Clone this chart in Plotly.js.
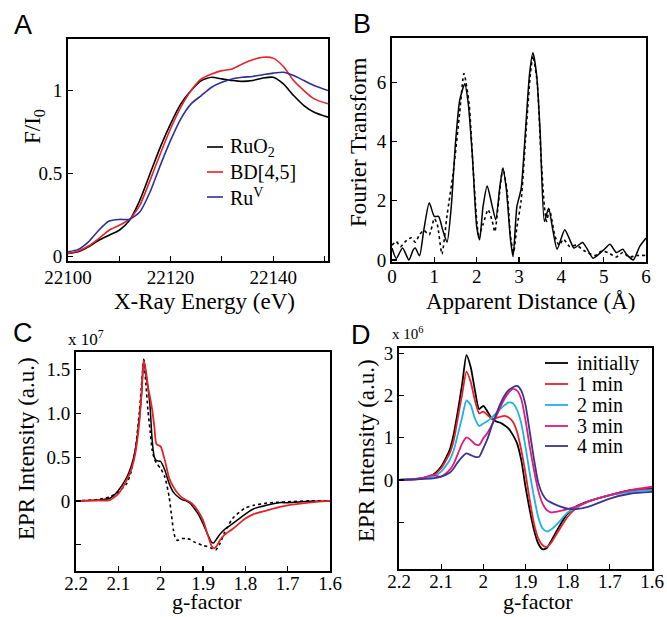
<!DOCTYPE html>
<html>
<head>
<meta charset="utf-8">
<script src="https://cdn.plot.ly/plotly-3.0.1.min.js"></script>
<style>html,body{margin:0;padding:0;background:#fff;}#chart{width:667px;height:617px;}</style>
</head>
<body>
<div id="chart"></div>
<script>
// ---------- Panel A: XANES ----------
var energyA = [22100,22102,22104,22106,22108,22110,22112,22114,22116,22118,22120,22122,22124,22126,22128,22130,22132,22134,22136,22138,22140,22142,22144,22146,22148,22150.7];
var ruo2A   = [0.02,0.03,0.06,0.10,0.13,0.16,0.22,0.34,0.50,0.66,0.80,0.92,1.00,1.06,1.08,1.07,1.06,1.055,1.06,1.075,1.08,1.04,0.97,0.91,0.87,0.84];
var bd45A   = [0.02,0.035,0.065,0.11,0.16,0.19,0.225,0.31,0.46,0.62,0.77,0.90,1.00,1.07,1.10,1.12,1.13,1.16,1.185,1.20,1.195,1.145,1.06,1.00,0.95,0.92];
var ruVA    = [0.03,0.045,0.09,0.16,0.215,0.225,0.225,0.27,0.39,0.55,0.70,0.83,0.92,0.97,1.02,1.05,1.07,1.08,1.085,1.095,1.105,1.11,1.09,1.06,1.03,1.00];
var legendA = ['RuO<sub>2</sub>','BD[4,5]','Ru<sup>V</sup>'];

// ---------- Panel B: EXAFS Fourier transform ----------
var distSolid = [0,0.1,0.25,0.4,0.5,0.55,0.65,0.75,0.88,1.0,1.1,1.2,1.3,1.4,1.5,1.6,1.72,1.8,1.9,2.0,2.07,2.15,2.25,2.35,2.45,2.55,2.62,2.7,2.8,2.86,2.95,3.05,3.15,3.25,3.33,3.42,3.5,3.6,3.7,3.8,3.9,4.08,4.2,4.3,4.5,4.6,4.75,5.0,5.15,5.3,5.45,5.55,5.7,5.85,6.0];
var ftSolid   = [0.4,0.05,0.4,0.0,0.34,0.4,0.14,1.0,1.93,1.47,1.47,1.0,0.6,1.8,3.96,5.4,5.95,5.3,3.5,1.13,0.68,1.8,2.5,1.93,1.36,2.5,3.1,2.4,0.68,0.11,1.8,2.4,4.3,6.3,7.0,6.2,4.3,1.3,1.75,1.0,0.36,1.02,0.68,0.4,0.59,0.4,0.06,0.34,0.53,0.25,0.36,0.17,0.0,0.45,0.74];
var distDot   = [0,0.1,0.2,0.3,0.45,0.55,0.65,0.75,0.88,1.0,1.07,1.18,1.3,1.45,1.6,1.7,1.82,1.92,2.05,2.15,2.27,2.37,2.43,2.52,2.62,2.72,2.8,2.87,2.95,3.05,3.15,3.27,3.33,3.43,3.52,3.6,3.65,3.72,3.85,3.95,4.05,4.2,4.35,4.55,4.8,4.95,5.1,5.3,5.45,5.6,5.8,6.0];
var ftDot     = [0.5,0.62,0.45,0.6,0.75,0.6,0.85,1.0,0.85,1.4,1.2,0.2,1.5,3.0,5.0,6.3,5.3,3.0,0.85,1.2,1.7,1.3,0.95,2.0,3.1,2.3,0.8,0.25,1.1,2.0,4.0,6.3,6.9,6.0,3.5,1.8,1.3,1.7,0.8,0.5,0.7,0.45,0.5,0.3,0.15,0.3,0.25,0.1,0.25,0.1,0.15,0.15];

// ---------- Panel C: EPR (x 10^7) ----------
var gC      = [2.2,2.15,2.12,2.1,2.08,2.07,2.06,2.05,2.045,2.04,2.035,2.03,2.025,2.02,2.015,2.01,2.0,1.99,1.98,1.97,1.96,1.95,1.94,1.93,1.92,1.91,1.9,1.89,1.88,1.875,1.87,1.86,1.85,1.83,1.8,1.78,1.75,1.72,1.7,1.65,1.6];
var eprBlackC = [0,0.01,0.03,0.12,0.27,0.39,0.58,0.96,1.23,1.62,1.45,1.30,1.07,0.69,0.50,0.46,0.45,0.35,0.20,0.10,0.05,0.015,0,-0.03,-0.09,-0.16,-0.26,-0.37,-0.47,-0.48,-0.45,-0.38,-0.33,-0.26,-0.15,-0.09,-0.05,-0.02,-0.02,-0.005,0];
var eprRedC   = [0,0.005,0.01,0.08,0.24,0.35,0.54,0.92,1.25,1.60,1.49,1.30,1.18,1.04,0.85,0.65,0.62,0.46,0.26,0.16,0.09,0.04,0.01,-0.015,-0.06,-0.13,-0.22,-0.37,-0.51,-0.54,-0.53,-0.45,-0.39,-0.32,-0.20,-0.15,-0.11,-0.07,-0.05,-0.02,0];
var gDotC     = [2.2,2.15,2.12,2.1,2.08,2.07,2.06,2.05,2.045,2.04,2.035,2.03,2.025,2.02,2.015,2.01,2.0,1.99,1.98,1.975,1.97,1.965,1.96,1.95,1.94,1.93,1.92,1.91,1.9,1.89,1.88,1.87,1.86,1.85,1.83,1.8,1.78,1.75,1.72,1.7,1.65,1.6];
var eprDotC   = [0,0.015,0.045,0.10,0.20,0.33,0.58,1.03,1.34,1.61,1.34,1.03,0.80,0.58,0.48,0.43,0.37,0.27,0.05,-0.14,-0.33,-0.43,-0.45,-0.43,-0.43,-0.44,-0.47,-0.49,-0.51,-0.52,-0.54,-0.56,-0.49,-0.37,-0.20,-0.08,-0.05,-0.025,-0.015,-0.01,0,0];

// ---------- Panel D: EPR time series (x 10^6) ----------
var gD = [2.2,2.15,2.12,2.1,2.08,2.07,2.06,2.05,2.04,2.03,2.02,2.01,2.0,1.99,1.98,1.97,1.96,1.95,1.94,1.93,1.92,1.91,1.9,1.89,1.88,1.87,1.86,1.85,1.84,1.82,1.8,1.78,1.75,1.7,1.65,1.6];
var eprInit = [0,0.04,0.12,0.32,0.71,1.1,1.66,2.29,2.96,2.68,2.13,1.68,1.76,1.62,1.46,1.39,1.36,1.30,1.22,1.07,0.87,0.47,-0.16,-0.71,-1.18,-1.50,-1.64,-1.62,-1.46,-1.10,-0.79,-0.63,-0.50,-0.36,-0.24,-0.21];
var epr1min = [0,0.03,0.10,0.28,0.63,0.95,1.50,2.05,2.57,2.33,1.89,1.58,1.62,1.54,1.45,1.47,1.50,1.52,1.48,1.38,1.14,0.71,0.16,-0.47,-1.03,-1.38,-1.54,-1.59,-1.50,-1.18,-0.87,-0.67,-0.51,-0.36,-0.24,-0.22];
var epr2min = [0,0.03,0.08,0.20,0.47,0.71,1.10,1.50,1.89,1.78,1.46,1.28,1.34,1.40,1.48,1.58,1.68,1.77,1.84,1.82,1.66,1.34,0.79,0.16,-0.39,-0.87,-1.14,-1.22,-1.18,-0.99,-0.77,-0.65,-0.51,-0.36,-0.28,-0.24];
var epr3min = [0,0.03,0.12,0.08,0.24,0.39,0.63,0.87,1.01,0.95,0.85,0.83,0.99,1.12,1.30,1.50,1.72,1.92,2.07,2.16,2.12,1.92,1.42,0.79,0.24,-0.24,-0.55,-0.71,-0.77,-0.74,-0.69,-0.63,-0.51,-0.36,-0.24,-0.16];
var epr4min = [0,0.02,0.04,0.08,0.17,0.28,0.43,0.55,0.63,0.59,0.55,0.55,0.75,0.98,1.28,1.55,1.80,2.00,2.13,2.20,2.23,2.12,1.78,1.15,0.50,-0.05,-0.33,-0.47,-0.53,-0.62,-0.68,-0.69,-0.63,-0.44,-0.32,-0.28];
var legendD = ['initially','1 min','2 min','3 min','4 min'];

// ---------- axis titles ----------
var xTitles = ['X-Ray Energy (eV)','Apparent Distance (Å)','g-factor','g-factor'];
var yTitles = ['F/I<sub>0</sub>','Fourier Transform','EPR Intensity (a.u.)','EPR Intensity (a.u.)'];

// ---------- colours ----------
var cBlack = '#000000', cRed = '#e5222a', cNavy = '#2e3192', cCyan = '#1eb2e6', cMag = '#e3197d', cNavyD = '#3b3491';

var W = 667, H = 617;
function PX(x){ return x / W; }
function PY(y){ return 1 - y / H; }

var serif = 'Liberation Serif';
var sans = 'Liberation Sans';

function tr(x, y, color, ax, ay, dash, width){
  return {x:x, y:y, type:'scatter', mode:'lines', xaxis:ax, yaxis:ay, showlegend:false, hoverinfo:'skip',
    line:{color:color, width:width||1.6, dash:dash||'solid', shape:'spline', smoothing:0.6}};
}

var data = [
  tr(energyA, ruo2A, cBlack, 'x', 'y'),
  tr(energyA, bd45A, cRed, 'x', 'y'),
  tr(energyA, ruVA, cNavy, 'x', 'y'),
  tr(distDot, ftDot, cBlack, 'x2', 'y2', 'dot', 1.6),
  tr(distSolid, ftSolid, cBlack, 'x2', 'y2', 'solid', 1.5),
  tr(gDotC, eprDotC, cBlack, 'x3', 'y3', 'dot', 1.6),
  tr(gC, eprBlackC, cBlack, 'x3', 'y3', 'solid', 1.5),
  tr(gC, eprRedC, cRed, 'x3', 'y3', 'solid', 1.8),
  tr(gD, eprInit, cBlack, 'x4', 'y4', 'solid', 1.8),
  tr(gD, epr1min, cRed, 'x4', 'y4', 'solid', 1.8),
  tr(gD, epr2min, cCyan, 'x4', 'y4', 'solid', 1.8),
  tr(gD, epr3min, cMag, 'x4', 'y4', 'solid', 1.8),
  tr(gD, epr4min, cNavyD, 'x4', 'y4', 'solid', 1.8)
];
data[0].name = legendA[0]; data[1].name = legendA[1]; data[2].name = legendA[2];
for (var i = 0; i < 5; i++) data[8+i].name = legendD[i];

function axis(domain, range, tickvals, ticktext, extra){
  var a = {domain:domain, range:range, tickmode:'array', tickvals:tickvals, ticktext:ticktext,
    ticks:'inside', ticklen:5, tickwidth:1.2, tickcolor:'#000',
    showline:true, linewidth:2, linecolor:'#000', mirror:true,
    showgrid:false, zeroline:false, fixedrange:true,
    tickfont:{family:serif, size:19, color:'#000'}};
  for (var k in extra) a[k] = extra[k];
  return a;
}
function minor(vals){ return {tickmode:'array', tickvals:vals, ticks:'inside', ticklen:5, tickwidth:1.2, tickcolor:'#000', showgrid:false}; }

var gTicks = [2.2,2.1,2.0,1.9,1.8,1.7,1.6], gText = ['2.2','2.1','2','1.9','1.8','1.7','1.6'];

var layout = {
  width: W, height: H,
  margin:{l:0, r:0, t:0, b:0},
  font:{family:serif, color:'#000'},
  paper_bgcolor:'#fff', plot_bgcolor:'#fff',
  showlegend:false,
  xaxis: axis([PX(68), PX(328)], [22100, 22150.7], [22100,22120,22140], ['22100','22120','22140'], {anchor:'y', ticklabelstandoff:-2, minor:minor([22110,22130,22150])}),
  yaxis: axis([PY(261), PY(39)], [-0.025, 1.31], [0,0.5,1], ['0','0.5','1'], {anchor:'x'}),
  xaxis2: axis([PX(392), PX(646)], [0, 6], [0,1,2,3,4,5,6], ['0','1','2','3','4','5','6'], {anchor:'y2', ticklabelstandoff:-4}),
  yaxis2: axis([PY(262), PY(38)], [-0.07, 7.5], [0,2,4,6], ['0','2','4','6'], {anchor:'x2'}),
  xaxis3: axis([PX(76), PX(330)], [2.2, 1.6], gTicks, gText, {anchor:'y3', ticklabelstandoff:-6}),
  yaxis3: axis([PY(571), PY(352)], [-0.80, 1.70], [0,0.5,1,1.5], ['0','0.5','1.0','1.5'], {anchor:'x3', minor:minor([-0.5])}),
  xaxis4: axis([PX(399), PX(652)], [2.2, 1.6], gTicks, gText, {anchor:'y4', ticklabelstandoff:-6}),
  yaxis4: axis([PY(569), PY(348)], [-2.11, 3.13], [0,1,2,3], ['0','1','2','3'], {anchor:'x4', minor:minor([-1])}),
  annotations: [],
  shapes: []
};

function label(text, x, y, size, family, anchor, angle){
  layout.annotations.push({text:text, x:PX(x), y:PY(y), xref:'paper', yref:'paper', showarrow:false,
    xanchor:anchor||'center', yanchor:'middle', textangle:angle||0, font:{family:family, size:size, color:'#000'}});
}
label('A', 23, 25, 27, sans);
label('B', 362, 24, 27, sans);
label('C', 23, 333, 27, sans);
label('D', 361, 335, 27, sans);
label('x 10<sup>7</sup>', 86, 338, 17, serif);
label('x 10<sup>6</sup>', 408, 333, 15, serif);

// x-axis titles
label(xTitles[0], 204, 301, 23, serif);
label(xTitles[1], 530, 301, 23, serif);
label(xTitles[2], 207, 601.5, 22, serif);
label(xTitles[3], 538, 601.5, 22, serif);

// y-axis titles (rotated)
label(yTitles[0], 34, 127, 23, serif, 'center', -90);
label(yTitles[1], 359, 143, 23, serif, 'center', -90);
label(yTitles[2], 26, 449, 23, serif, 'center', -90);
label(yTitles[3], 367, 451, 23, serif, 'center', -90);

// custom legends
var legAy = [147, 172, 197], legAc = [cBlack, cRed, cNavy];
for (var i = 0; i < 3; i++){
  layout.shapes.push({type:'line', xref:'paper', yref:'paper', x0:PX(207), x1:PX(223), y0:PY(legAy[i]), y1:PY(legAy[i]), line:{color:legAc[i], width:1.6}});
  label(legendA[i], 228, legAy[i], 20, serif, 'left');
}
var legDy = [363, 384, 405, 426, 446], legDc = [cBlack, cRed, cCyan, cMag, cNavyD];
for (var i = 0; i < 5; i++){
  layout.shapes.push({type:'line', xref:'paper', yref:'paper', x0:PX(545), x1:PX(568), y0:PY(legDy[i]), y1:PY(legDy[i]), line:{color:legDc[i], width:1.8}});
  label(legendD[i], 575, legDy[i], 20, serif, 'left');
}

Plotly.newPlot('chart', data, layout, {displayModeBar:false, staticPlot:true});
</script>
</body>
</html>
